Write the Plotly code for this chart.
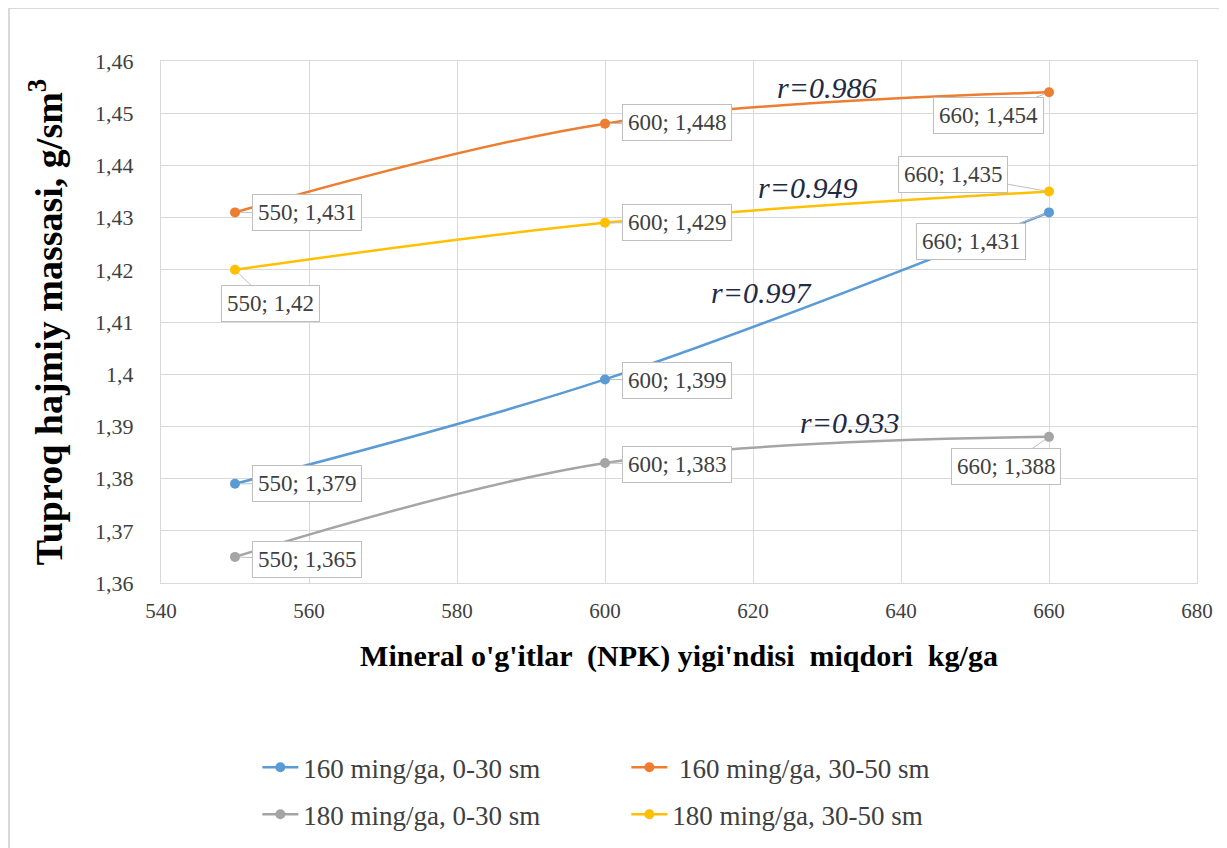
import plotly.graph_objects as go

# ---- data ----
npk = [550, 600, 660]
s160_0_30 = [1.379, 1.399, 1.431]
s160_30_50 = [1.431, 1.448, 1.454]
s180_0_30 = [1.365, 1.383, 1.388]
s180_30_50 = [1.420, 1.429, 1.435]

series_names = ["160 ming/ga, 0-30 sm", " 160 ming/ga, 30-50 sm",
                "180 ming/ga, 0-30 sm", "180 ming/ga, 30-50 sm"]
series_values = [s160_0_30, s160_30_50, s180_0_30, s180_30_50]
series_colors = ["#5b9bd5", "#ed7d31", "#a5a5a5", "#ffc000"]
series_legend = ["legend", "legend", "legend2", "legend2"]

r_labels = ["r=0.997", "r=0.986", "r=0.933", "r=0.949"]
r_pos_x = [621.2, 629.9, 633.0, 627.4]
r_pos_y = [1.4157, 1.4550, 1.3908, 1.4357]

# label text strings (as shown in chart)
label_texts = [
    ["550; 1,379", "600; 1,399", "660; 1,431"],
    ["550; 1,431", "600; 1,448", "660; 1,454"],
    ["550; 1,365", "600; 1,383", "660; 1,388"],
    ["550; 1,42", "600; 1,429", "660; 1,435"],
]
# callout offsets (pixels) of each label box from its point
label_offsets = [
    [(72, 0), (72, 1), (-78, 29)],
    [(72, 0), (72, -1), (-61, 23)],
    [(72, 3), (72, 2), (-43, 30)],
    [(35, 34), (72, 0), (-96, -17)],
]

x_ticks = [540, 560, 580, 600, 620, 640, 660, 680]
y_ticks = [1.36, 1.37, 1.38, 1.39, 1.40, 1.41, 1.42, 1.43, 1.44, 1.45, 1.46]
y_ticktext = ["1,36", "1,37", "1,38", "1,39", "1,4", "1,41", "1,42", "1,43", "1,44", "1,45", "1,46"]

FONT = "Liberation Serif"
TXT = "#404040"

# margins (the page body adds an 8px offset)
ML, MR, MT, MB = 153, 38, 53, 273
PW = 1227 - ML - MR
PH = 848 - MT - MB

fig = go.Figure()
for name, vals, col, lg in zip(series_names, series_values, series_colors, series_legend):
    fig.add_trace(go.Scatter(
        x=npk, y=vals, name=name, mode="lines+markers",
        line=dict(color=col, width=2.5, shape="spline", smoothing=1.0),
        marker=dict(color=col, size=10),
        legend=lg,
    ))

annotations = []
for vals, texts, offs in zip(series_values, label_texts, label_offsets):
    for xv, yv, t, (ax, ay) in zip(npk, vals, texts, offs):
        annotations.append(dict(
            x=xv, y=yv, xref="x", yref="y", text=t,
            showarrow=True, arrowhead=0, arrowwidth=1, arrowcolor="#bfbfbf",
            ax=ax, ay=ay, standoff=5,
            bgcolor="white", bordercolor="#bfbfbf", borderwidth=1, borderpad=5,
            font=dict(family=FONT, size=23, color=TXT),
        ))
for t, xv, yv in zip(r_labels, r_pos_x, r_pos_y):
    annotations.append(dict(
        x=xv, y=yv, xref="x", yref="y", text="<i>" + t + "</i>",
        showarrow=False, font=dict(family=FONT, size=30, color="#1f2a44"),
    ))

fig.update_layout(
    width=1227, height=848,
    margin=dict(l=ML, r=MR, t=MT, b=MB),
    paper_bgcolor="white", plot_bgcolor="white",
    separators=",.",
    font=dict(family=FONT, color=TXT),
    annotations=annotations,
    legend=dict(orientation="h", x=0.093, y=-0.354, xanchor="left", yanchor="middle",
                entrywidth=318, entrywidthmode="pixels",
                font=dict(family=FONT, size=27, color=TXT), itemwidth=36),
    legend2=dict(orientation="h", x=0.093, y=-0.444, xanchor="left", yanchor="middle",
                 entrywidth=318, entrywidthmode="pixels",
                 font=dict(family=FONT, size=27, color=TXT), itemwidth=36),
    shapes=[dict(type="rect", xref="paper", yref="paper",
                 x0=(1 - ML) / PW, x1=(1260 - ML) / PW,
                 y0=(PH + MT - 900) / PH, y1=(PH + MT - 0) / PH,
                 line=dict(color="#d9d9d9", width=2), layer="below")],
)
fig.update_xaxes(
    range=[540, 680], tickvals=x_ticks, ticktext=[str(v) for v in x_ticks],
    automargin=False,
    showgrid=True, gridcolor="#d9d9d9", gridwidth=1,
    showline=True, linecolor="#d9d9d9", linewidth=1, mirror=True,
    zeroline=False, ticks="outside", ticklen=9, tickcolor="rgba(0,0,0,0)",
    tickfont=dict(family=FONT, size=21, color=TXT),
    title=dict(text="<b>Mineral o'g'itlar  (NPK) yigi'ndisi  miqdori  kg/ga</b>",
               font=dict(family=FONT, size=30, color="#000000"), standoff=22),
)
fig.update_yaxes(
    range=[1.36, 1.46], tickvals=y_ticks, ticktext=y_ticktext,
    automargin=False,
    showgrid=True, gridcolor="#d9d9d9", gridwidth=1,
    showline=True, linecolor="#d9d9d9", linewidth=1, mirror=True,
    zeroline=False, ticks="outside", ticklen=22, tickcolor="rgba(0,0,0,0)",
    tickfont=dict(family=FONT, size=22, color=TXT),
    title=dict(text="<b>Tuproq hajmiy massasi, g/sm<sup>3</sup></b>",
               font=dict(family=FONT, size=38, color="#000000"), standoff=20),
)

fig.write_html("out.html")
